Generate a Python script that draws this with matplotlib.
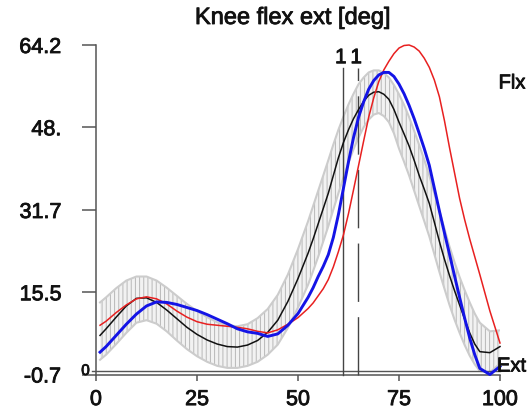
import matplotlib
matplotlib.use("Agg")
import matplotlib.pyplot as plt
import matplotlib.patheffects as pe

plt.rcParams['font.family'] = ['Liberation Sans', 'DejaVu Sans']
plt.rcParams['hatch.linewidth'] = 0.7
plt.rcParams['hatch.color'] = '#b8b8b8'

# ---- data ----
x = [1, 2.5, 5, 7.5, 10, 12.5, 15, 17.5, 20, 22.5, 25, 27.5, 30, 32.5, 35, 37.5,
     40, 42.5, 45, 47.5, 50,
     52.5, 53.75, 55, 56.25, 57.5, 58.75, 60, 61.25, 62.5, 63.75, 65, 66.25,
     67.5, 68.75, 70, 71.25, 72.5, 73.75, 75, 76.25, 77.5, 78.75, 80, 81.25,
     82.5, 83.75, 85, 86.25, 87.5, 88.75, 90, 91.25, 92.5, 93.75, 95,
     97.5, 100]

mean_curve = [7.0, 8.3, 10.6, 12.8, 14.3, 14.4, 13.5, 12.0, 10.3, 8.6, 7.2, 6.1,
              5.3, 4.8, 4.7, 5.1, 6.0, 7.6, 10.0, 13.7, 18.2,
              23.2, 26.0, 29.0, 32.0, 35.0, 38.5, 42.0, 45.0, 47.5, 49.7, 51.5,
              53.1, 54.3, 54.9, 55.0, 54.5, 53.5, 51.5, 49.0, 46.7, 44.3, 41.5,
              38.5, 35.8, 33.0, 29.3, 25.5, 22.0, 18.8, 15.8, 13.0, 10.2, 7.5,
              5.3, 3.8,
              3.6, 4.8]

band_upper = [13.5, 14.5, 16.3, 17.8, 18.6, 18.6, 17.8, 16.4, 14.8, 13.2, 11.8,
              10.6, 9.6, 9.0, 8.8, 9.2, 10.4, 12.2, 15.0, 19.0, 24.0,
              29.5, 32.5, 35.5, 38.5, 41.5, 44.6, 47.5, 50.1, 52.5, 54.6, 56.5,
              57.8, 58.8, 59.2, 59.2, 58.7, 57.8, 56.3, 54.5, 52.4, 50.0, 47.3,
              44.5, 41.6, 38.5, 35.0, 31.5, 28.0, 24.5, 21.4, 18.5, 15.9, 13.5,
              11.3, 9.5,
              7.8, 8.0]

band_lower = [2.2, 3.2, 5.3, 7.5, 9.5, 10.0, 9.3, 7.8, 6.0, 4.3, 2.9, 1.8, 1.0,
              0.6, 0.6, 1.0, 1.8, 3.2, 5.2, 8.5, 12.5,
              17.0, 19.7, 22.5, 25.5, 28.5, 31.8, 35.0, 38.1, 41.0, 43.7, 46.0,
              48.0, 49.5, 50.5, 50.8, 50.2, 49.0, 46.8, 43.8, 41.2, 38.5, 35.5,
              32.5, 29.5, 26.5, 23.0, 19.5, 16.2, 13.0, 10.1, 7.5, 5.1, 3.0,
              1.3, 0.0,
              -0.3, 1.5]

red_curve = [9.0, 9.8, 11.5, 13.0, 14.2, 14.6, 14.2, 13.2, 11.8, 10.6, 9.7, 9.2,
             9.0, 8.8, 8.6, 8.3, 7.8, 7.5, 8.1, 9.2, 10.5,
             12.3, 13.4, 14.8, 16.2, 18.0, 20.5, 23.5, 26.8, 31.0, 35.7, 40.5,
             45.3, 50.0, 53.8, 57.0, 59.3, 61.0, 62.5, 63.6, 64.1, 64.2, 63.8,
             63.0, 61.6, 59.8, 57.3, 54.0, 49.3, 44.0, 39.0, 34.0, 29.8, 26.0,
             22.5, 19.0,
             11.8, 5.5]

blue_curve = [3.7, 4.8, 7.0, 9.2, 11.2, 12.8, 13.6, 13.5, 13.1, 12.5, 11.9, 11.1,
              10.2, 9.3, 8.3, 7.7, 7.4, 6.8, 7.3, 9.0, 11.3,
              14.5, 16.4, 18.6, 20.6, 22.9, 26.3, 30.8, 36.0, 41.2, 46.0, 50.0,
              53.0, 55.5, 57.2, 58.3, 58.8, 58.8, 58.0, 56.5, 54.6, 52.3, 49.7,
              46.8, 43.8, 40.5, 36.0, 31.5, 27.2, 23.0, 18.7, 14.5, 10.4, 6.5,
              3.2, 0.5,
              -0.7, 0.9]

event_solid = 61.1
event_dashed = 64.9
event_top = 59.7

y_ticks = [64.2, 48.0, 31.7, 15.5, -0.7]
y_tick_labels = ['64.2', '48.', '31.7', '15.5', '-0.7']
x_ticks = [0, 25, 50, 75, 100]
x_tick_labels = ['0', '25', '50', '75', '100']

title = 'Knee flex ext [deg]'

# ---- figure ----
W, H = 532, 412
fig = plt.figure(figsize=(W / 100, H / 100), dpi=100)
ax = fig.add_axes([96 / W, 1 - 374.5 / H, 404 / W, 329.5 / H])
ax.set_xlim(0, 100)
ax.set_ylim(-0.7, 64.2)

axis_col = '#555555'
txt_col = '#111111'
thick = [pe.withStroke(linewidth=0.6, foreground=txt_col)]

# band
ax.fill_between(x, band_lower, band_upper, facecolor='#f2f2f2',
                edgecolor='#b8b8b8', hatch='||||', linewidth=0, zorder=1)
ax.plot(x, band_upper, color='#cccccc', lw=1.5, zorder=2)
ax.plot(x, band_lower, color='#cccccc', lw=1.5, zorder=2)

# zero line
ax.plot([-1, 100], [0, 0], color=axis_col, lw=1.0, clip_on=False, zorder=3)
ax.text(-2.6, 0.0, '0', ha='center', va='center', fontsize=11, color=txt_col,
        path_effects=thick)

# event lines
ax.plot([event_solid, event_solid], [-0.7, event_top], color='#444444', lw=1.0,
        zorder=3, clip_on=False)
ax.plot([event_dashed, event_dashed], [-0.7, event_top], color='#444444', lw=1.0,
        dashes=(42, 11), zorder=3, clip_on=False)
ax.text(event_solid - 0.5, 61.7, '1', ha='center', va='center', fontsize=15,
        color=txt_col, path_effects=thick)
ax.text(event_dashed - 0.5, 61.7, '1', ha='center', va='center', fontsize=15,
        color=txt_col, path_effects=thick)

# curves
ax.plot(x, mean_curve, color='#111111', lw=1.1, zorder=4, clip_on=False)
ax.plot(x, red_curve, color='#e82020', lw=1.1, zorder=5, clip_on=False)
ax.plot(x, blue_curve, color='#1414e6', lw=2.1, zorder=6, clip_on=False)

# axes styling
for s in ['top', 'right']:
    ax.spines[s].set_visible(False)
for s in ['left', 'bottom']:
    ax.spines[s].set_color(axis_col)
    ax.spines[s].set_linewidth(1.1)

ax.set_yticks(y_ticks)
ax.set_yticklabels(y_tick_labels)
ax.set_xticks(x_ticks)
ax.set_xticklabels(x_tick_labels)
ax.tick_params(axis='y', direction='out', length=10, width=1.1, color=axis_col,
               pad=15, labelsize=15.5, labelcolor=txt_col)
ax.tick_params(axis='x', direction='out', length=4.5, width=1.1, color=axis_col,
               pad=6, labelsize=15.5, labelcolor=txt_col)
for lab in ax.get_xticklabels() + ax.get_yticklabels():
    lab.set_path_effects(thick)

fig.text(293 / W, 1 - 18 / H, title, ha='center', va='center', fontsize=17,
         color=txt_col, path_effects=thick)
fig.text(512 / W, 1 - 83 / H, 'Flx', ha='center', va='center', fontsize=14.5,
         color=txt_col, path_effects=thick)
fig.text(497 / W, 1 - 366 / H, 'Ext', ha='left', va='center', fontsize=14.5,
         color=txt_col, path_effects=thick)

fig.savefig('out.png', dpi=100)
